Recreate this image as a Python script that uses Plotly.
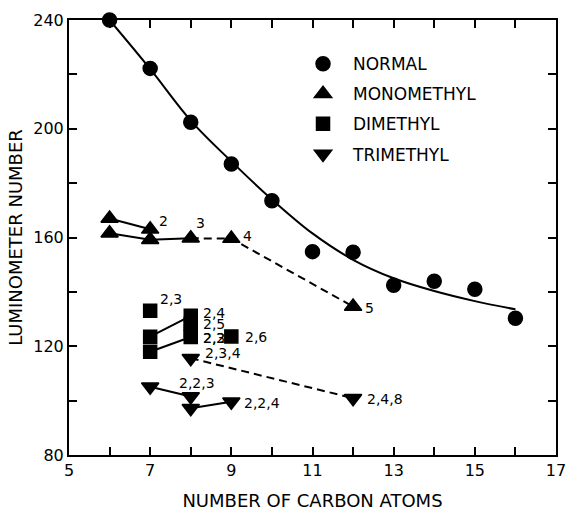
import plotly.graph_objects as go

# ---------------- data ----------------
x_range = [5, 17]
y_range = [80, 240]

x_tick_labels = [5, 7, 9, 11, 13, 15, 17]
y_tick_labels = [80, 120, 160, 200, 240]

# normal paraffins (circles) and the drawn smooth curve
normal_x = [6, 7, 8, 9, 10, 11, 12, 13, 14, 15, 16]
normal_y = [240.0, 222.2, 202.4, 187.0, 173.5, 154.8, 154.6, 142.4, 143.9, 141.0, 130.3]
curve_x = [6, 7, 8, 9, 10, 11, 12, 13, 14, 15, 16]
curve_y = [240.0, 222.0, 203.0, 188.0, 174.0, 161.5, 151.8, 145.0, 140.3, 136.6, 133.6]

# monomethyl (up triangles)
mono_x = [6, 6, 7, 7, 8, 9, 12]
mono_y = [167.0, 161.6, 163.0, 159.2, 159.7, 159.6, 134.6]
mono_labels = ["", "", "2", "", "3", "4", "5"]
mono_solid = [[0, 2], [1, 3, 4]]
mono_dashed = [[4, 5, 6]]

# dimethyl (squares)
dim_x = [7, 7, 7, 8, 8, 8, 8, 9]
dim_y = [133.1, 123.5, 118.0, 131.2, 128.3, 125.7, 123.4, 123.6]
dim_labels = ["2,3", "", "", "2,4", "2,5", "2,3", "2,2", "2,6"]
dim_solid = [[1, 3], [2, 6]]

# trimethyl (down triangles)
tri_x = [7, 8, 8, 9, 8, 12]
tri_y = [105.1, 101.5, 97.2, 99.6, 115.6, 100.9]
tri_labels = ["", "2,2,3", "", "2,2,4", "2,3,4", "2,4,8"]
tri_solid = [[0, 1], [2, 3]]
tri_dashed = [[4, 5]]

series_names = ["NORMAL", "MONOMETHYL", "DIMETHYL", "TRIMETHYL"]

# label offsets in pixels (style only)
mono_off = {2: (7, 8), 4: (3, 15), 5: (10, 3), 6: (10, -1)}
dim_off = {0: (8, 12), 3: (10, 3), 4: (10, 0), 5: (10, -7), 6: (10, -1), 7: (12, -1)}
tri_off = {1: (-14, 14), 3: (11, -1), 4: (12, 5), 5: (12, -1)}

FONT = "DejaVu Sans"
BLACK = "black"

fig = go.Figure()

# smooth curve through normal paraffins
fig.add_trace(go.Scatter(x=curve_x, y=curve_y, mode="lines",
                         line=dict(color=BLACK, width=2, shape="spline", smoothing=1.0),
                         showlegend=False, hoverinfo="skip"))


def add_lines(xs, ys, groups, dash):
    for g in groups:
        fig.add_trace(go.Scatter(x=[xs[i] for i in g], y=[ys[i] for i in g], mode="lines",
                                 line=dict(color=BLACK, width=2, dash=dash),
                                 showlegend=False, hoverinfo="skip"))


add_lines(mono_x, mono_y, mono_solid, "solid")
add_lines(mono_x, mono_y, mono_dashed, "8px,5px")
add_lines(dim_x, dim_y, dim_solid, "solid")
add_lines(tri_x, tri_y, tri_solid, "solid")
add_lines(tri_x, tri_y, tri_dashed, "8px,5px")

marker_specs = [
    (normal_x, normal_y, "circle", 14),
    (mono_x, mono_y, "triangle-up", 15),
    (dim_x, dim_y, "square", 13),
    (tri_x, tri_y, "triangle-down", 15),
]
for name, (xs, ys, sym, sz) in zip(series_names, marker_specs):
    fig.add_trace(go.Scatter(x=xs, y=ys, mode="markers", name=name, legendgroup=name,
                             marker=dict(symbol=sym, size=sz, color=BLACK,
                                         line=dict(color=BLACK, width=1.5)),
                             cliponaxis=False))

annotations = []
for xs, ys, labels, offs in [(mono_x, mono_y, mono_labels, mono_off),
                             (dim_x, dim_y, dim_labels, dim_off),
                             (tri_x, tri_y, tri_labels, tri_off)]:
    for i, lab in enumerate(labels):
        if not lab:
            continue
        dx, dy = offs.get(i, (10, 0))
        annotations.append(dict(x=xs[i], y=ys[i], text=lab, showarrow=False,
                                xanchor="left", yanchor="middle", xshift=dx, yshift=dy,
                                font=dict(family=FONT, size=14, color=BLACK)))

axis_common = dict(showline=True, linecolor=BLACK, linewidth=2, mirror="ticks", ticks="inside",
                   ticklen=8, tickwidth=1.5, tickcolor=BLACK, showgrid=False, zeroline=False,
                   automargin=False, tickfont=dict(family=FONT, size=16, color=BLACK))

fig.update_layout(
    width=568, height=511,
    margin=dict(l=69, r=12, t=20, b=56),
    paper_bgcolor="white", plot_bgcolor="white",
    font=dict(family=FONT, color=BLACK),
    xaxis=dict(range=x_range, tickmode="array", tickvals=x_tick_labels,
               minor=dict(dtick=1, tick0=5, ticks="inside", ticklen=8, tickwidth=1.5, tickcolor=BLACK),
               title=dict(text="NUMBER OF CARBON ATOMS",
                          font=dict(family=FONT, size=18, color=BLACK), standoff=16),
               **axis_common),
    yaxis=dict(range=y_range, tickmode="array", tickvals=y_tick_labels,
               minor=dict(dtick=20, tick0=80, ticks="inside", ticklen=8, tickwidth=1.5, tickcolor=BLACK),
               title=dict(text="LUMINOMETER NUMBER",
                          font=dict(family=FONT, size=18, color=BLACK), standoff=6),
               **axis_common),
    legend=dict(x=0.46, y=0.94, xanchor="left", yanchor="top", bgcolor="rgba(0,0,0,0)",
                font=dict(family=FONT, size=17, color=BLACK), tracegroupgap=5, itemwidth=50,
                traceorder="grouped"),
    annotations=annotations,
)

fig.write_html("out.html")
